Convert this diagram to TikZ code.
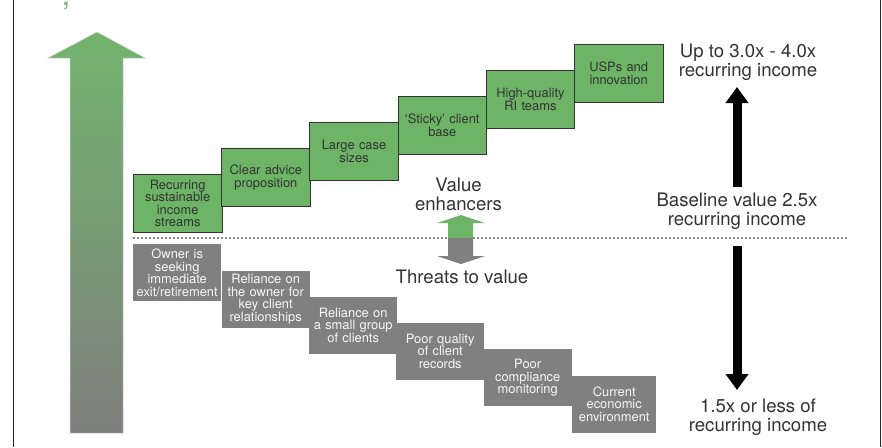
\documentclass[tikz,border=0pt]{standalone}
\usepackage{fontspec}
\setmainfont{TeX Gyre Heros}
\usetikzlibrary{arrows.meta}
\definecolor{boxgreen}{HTML}{6DB467}
\definecolor{boxgrey}{HTML}{808080}
\definecolor{arrowgreen}{HTML}{72B46E}
\definecolor{arrowgrey}{HTML}{7E7F7C}
\definecolor{inkgrey}{HTML}{333333}
\definecolor{dotgrey}{HTML}{8A8A8A}

\begin{document}
\begin{tikzpicture}[x=1pt,y=-1pt,
  boxfont/.style={font=\fontsize{12.9}{12.5}\selectfont},
  plusbox/.style={boxfont, draw=inkgrey, line width=0.8pt, fill=boxgreen, text=inkgrey,
    anchor=north west, inner sep=1pt, text width=86.5pt, minimum height=58pt, align=center},
  minusbox/.style={boxfont, fill=boxgrey, text=white!94!gray,
    anchor=north west, inner sep=1pt, text width=86pt, minimum height=57pt, align=center},
  bigtext/.style={font=\fontsize{18.6}{18.8}\selectfont, text=inkgrey, align=center, inner sep=0pt},
  blackarrow/.style={line width=9pt, draw=black, -{Triangle[width=22pt,length=16pt]}},
  dotline/.style={draw=dotgrey, line width=1.1pt, dash pattern=on 2pt off 2pt},
  frameline/.style={draw=black!85, line width=1pt}
]
\useasboundingbox (0,0) rectangle (882,447);

% side rules of the frame
\draw[frameline] (13.5,0) -- (13.5,447);
\draw[frameline] (880.5,0) -- (880.5,447);

% small green mark at the top edge
\node[text=arrowgreen, font=\fontsize{30}{30}\selectfont, inner sep=0pt] (tick) at (66,6.5) {,};

% tall value arrow, green fading to grey
\shade[top color=arrowgreen, bottom color=arrowgrey, draw=gray!35, line width=0.5pt]
  (70,433) -- (70,58) -- (48,58) -- (97,32) -- (145,58) -- (123,58) -- (123,433) -- cycle;

% value enhancers
\node[plusbox] (g1) at (133,174)   {Recurring\\sustainable\\income\\streams};
\node[plusbox] (g2) at (221.2,148) {Clear advice\\proposition};
\node[plusbox] (g3) at (309.4,122) {Large case\\sizes};
\node[plusbox] (g4) at (397.6,96)  {‘Sticky’ client\\base};
\node[plusbox] (g5) at (485.8,70)  {High-quality\\RI teams};
\node[plusbox] (g6) at (574,44)    {USPs and\\innovation};

% threats to value
\node[minusbox] (r1) at (133,244)   {Owner is\\seeking\\immediate\\exit/retirement};
\node[minusbox] (r2) at (221.5,270.5) {Reliance on\\the owner for\\key client\\relationships};
\node[minusbox] (r3) at (309,296.5) {Reliance on\\a small group\\of clients};
\node[minusbox] (r4) at (396,322.5) {Poor quality\\of client\\records};
\node[minusbox] (r5) at (483.5,349) {Poor\\compliance\\monitoring};
\node[minusbox, text width=82pt] (r6) at (572,375.5) {Current\\economic\\environment};

% baseline divider
\coordinate (divL) at (133,238);
\coordinate (divR) at (848,238);
\draw[dotline] (divL) -- (divR);

% small up/down arrow across the baseline
\fill[boxgreen] (448,238) -- (448,223) -- (437,223) -- (461,215) -- (485,223) -- (473,223) -- (473,238) -- cycle;
\fill[boxgrey]  (448,238) -- (448,256) -- (437,256) -- (461,264) -- (485,256) -- (473,256) -- (473,238) -- cycle;
\node[bigtext] (enh) at (458.5,194) {Value\\enhancers};
\node[bigtext] (thr) at (462,277) {Threats to value};

% multiples on the right
\node[bigtext] (top) at (748,62.5) {Up to 3.0x - 4.0x\\recurring income};
\node[bigtext] (base) at (737,211) {Baseline value 2.5x\\recurring income};
\node[bigtext] (low) at (758,417) {1.5x or less of\\recurring income};

\coordinate (upFoot) at (737,187);
\coordinate (upTip) at (737,87);
\coordinate (downFoot) at (737,246);
\coordinate (downTip) at (737,390);
\draw[blackarrow] (upFoot) -- (upTip);
\draw[blackarrow] (downFoot) -- (downTip);
\end{tikzpicture}
\end{document}
